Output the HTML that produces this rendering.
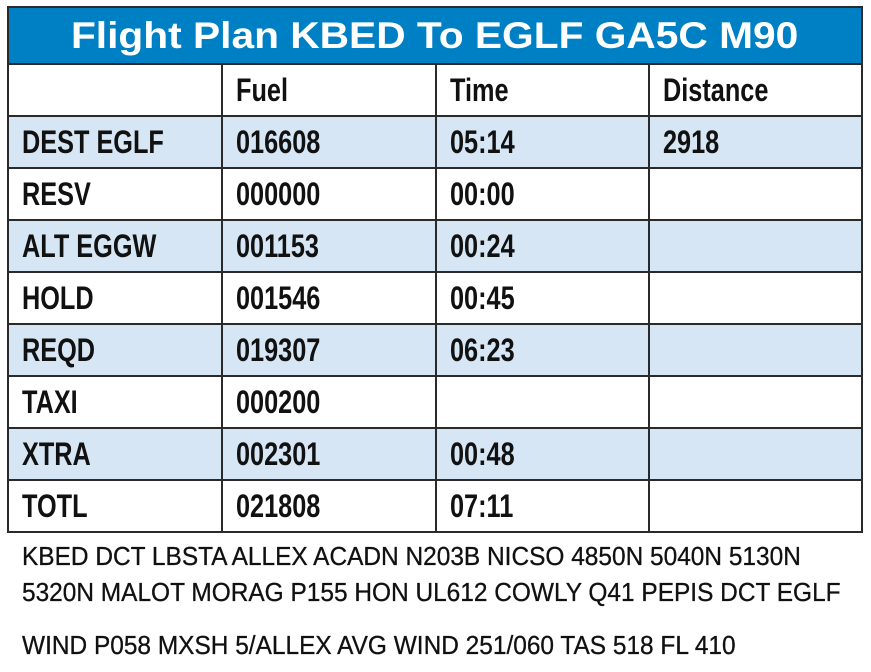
<!DOCTYPE html>
<html><head><style>
body{margin:0;width:871px;height:672px;background:#fff;position:relative;overflow:hidden;font-family:"Liberation Sans",Arial,sans-serif;}
.r{position:absolute;left:8px;width:854px;height:52px;}
.b{background:#d6e6f4;}
.h{position:absolute;background:#2a2a2a;}
.t{position:absolute;font-size:32px;font-weight:bold;color:#111;white-space:nowrap;transform:scaleX(0.79);transform-origin:left center;line-height:52px;}
.f{position:absolute;left:22px;font-size:26px;color:#111;white-space:nowrap;transform:scaleX(0.94);transform-origin:left top;-webkit-text-stroke:0.3px #111;}
</style></head><body>
<div style="position:absolute;left:8px;top:7px;width:854px;height:56px;background:#0080c4;"></div>
<div style="position:absolute;left:8px;top:7px;width:854px;height:56px;line-height:58px;text-align:center;color:#fff;font-weight:bold;font-size:37px;"><span style="display:inline-block;transform:scaleX(1.1)">Flight Plan KBED To EGLF GA5C M90</span></div>
<div class="r b" style="top:116px"></div>
<div class="r b" style="top:220px"></div>
<div class="r b" style="top:324px"></div>
<div class="r b" style="top:428px"></div>
<div class="h" style="left:7px;top:6px;width:856px;height:2px"></div>
<div class="h" style="left:7px;top:63px;width:856px;height:2px"></div>
<div class="h" style="left:7px;top:115px;width:856px;height:2px"></div>
<div class="h" style="left:7px;top:167px;width:856px;height:2px"></div>
<div class="h" style="left:7px;top:219px;width:856px;height:2px"></div>
<div class="h" style="left:7px;top:271px;width:856px;height:2px"></div>
<div class="h" style="left:7px;top:323px;width:856px;height:2px"></div>
<div class="h" style="left:7px;top:375px;width:856px;height:2px"></div>
<div class="h" style="left:7px;top:427px;width:856px;height:2px"></div>
<div class="h" style="left:7px;top:479px;width:856px;height:2px"></div>
<div class="h" style="left:7px;top:531px;width:856px;height:2px"></div>
<div class="h" style="left:7px;top:6px;width:2px;height:527px"></div>
<div class="h" style="left:861px;top:6px;width:2px;height:527px"></div>
<div class="h" style="left:221px;top:63px;width:2px;height:470px"></div>
<div class="h" style="left:435px;top:63px;width:2px;height:470px"></div>
<div class="h" style="left:648px;top:63px;width:2px;height:470px"></div>

<div class="t" style="left:236px;top:64px">Fuel</div>
<div class="t" style="left:450px;top:64px">Time</div>
<div class="t" style="left:663px;top:64px">Distance</div>

<div class="t" style="left:22px;top:116px">DEST EGLF</div>
<div class="t" style="left:236px;top:116px">016608</div>
<div class="t" style="left:450px;top:116px">05:14</div>
<div class="t" style="left:663px;top:116px">2918</div>

<div class="t" style="left:22px;top:168px">RESV</div>
<div class="t" style="left:236px;top:168px">000000</div>
<div class="t" style="left:450px;top:168px">00:00</div>

<div class="t" style="left:22px;top:220px">ALT EGGW</div>
<div class="t" style="left:236px;top:220px">001153</div>
<div class="t" style="left:450px;top:220px">00:24</div>

<div class="t" style="left:22px;top:272px">HOLD</div>
<div class="t" style="left:236px;top:272px">001546</div>
<div class="t" style="left:450px;top:272px">00:45</div>

<div class="t" style="left:22px;top:324px">REQD</div>
<div class="t" style="left:236px;top:324px">019307</div>
<div class="t" style="left:450px;top:324px">06:23</div>

<div class="t" style="left:22px;top:376px">TAXI</div>
<div class="t" style="left:236px;top:376px">000200</div>

<div class="t" style="left:22px;top:428px">XTRA</div>
<div class="t" style="left:236px;top:428px">002301</div>
<div class="t" style="left:450px;top:428px">00:48</div>

<div class="t" style="left:22px;top:480px">TOTL</div>
<div class="t" style="left:236px;top:480px">021808</div>
<div class="t" style="left:450px;top:480px">07:11</div>

<div class="f" style="top:541px">KBED DCT LBSTA ALLEX ACADN N203B NICSO 4850N 5040N 5130N</div>
<div class="f" style="top:577px">5320N MALOT MORAG P155 HON UL612 COWLY Q41 PEPIS DCT EGLF</div>
<div class="f" style="top:630px">WIND P058 MXSH 5/ALLEX AVG WIND 251/060 TAS 518 FL 410</div>
</body></html>
